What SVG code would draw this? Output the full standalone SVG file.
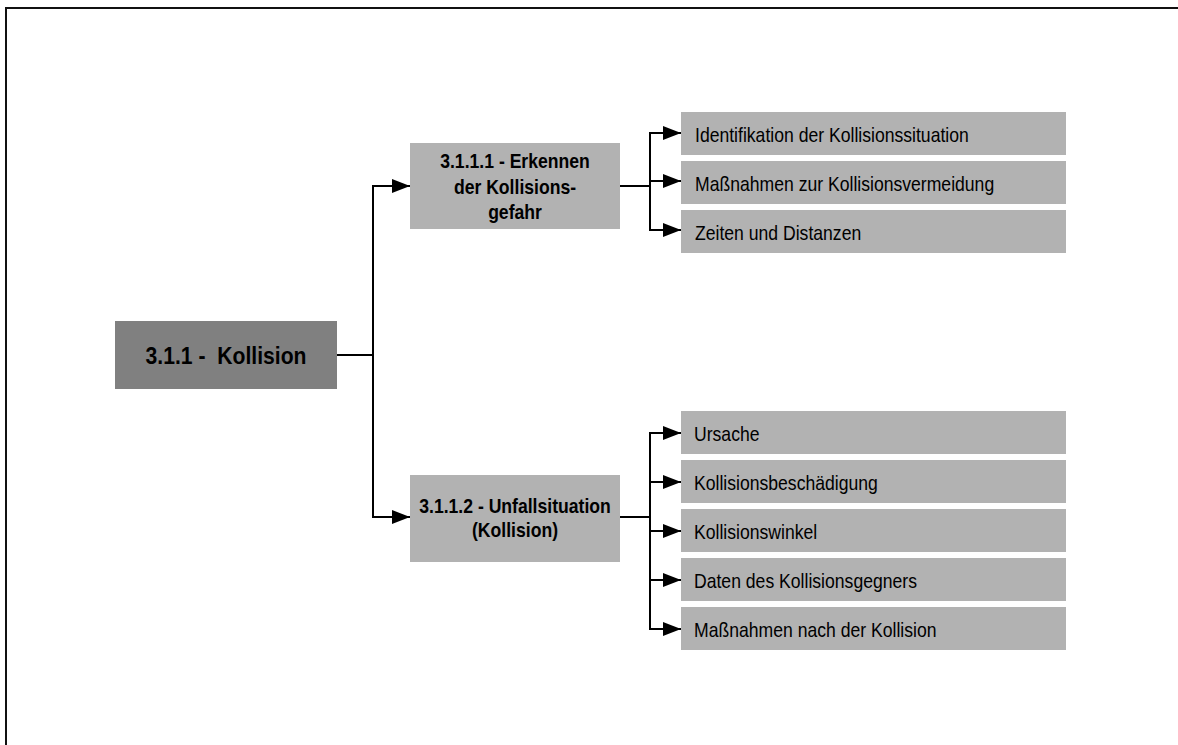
<svg xmlns="http://www.w3.org/2000/svg" width="1178" height="745" viewBox="0 0 1178 745">
  <defs>
    <marker id="arrow" markerUnits="userSpaceOnUse" markerWidth="18" markerHeight="14" refX="18" refY="7" orient="auto">
      <path d="M0,0 L18,7 L0,14 z" fill="#000"/>
    </marker>
    <style>
      .frame { fill: none; stroke: #111; stroke-width: 2; }
      .root rect { fill: #808080; }
      .mid rect { fill: #b2b2b2; }
      .leaf rect { fill: #b2b2b2; }
      .root text { font-family: "Liberation Sans", Arial, sans-serif; font-weight: bold; font-size: 23px; fill: #000; text-anchor: middle; white-space: pre; }
      .mid text { font-family: "Liberation Sans", Arial, sans-serif; font-weight: bold; font-size: 20px; fill: #000; text-anchor: middle; }
      .leaf text { font-family: "Liberation Sans", Arial, sans-serif; font-size: 20px; fill: #000; }
      .conn path { fill: none; stroke: #000; stroke-width: 2; }
      .conn path.arr { marker-end: url(#arrow); }
    </style>
  </defs>

  <rect width="1178" height="745" fill="#fff"/>
  <!-- page frame (top and left edges) -->
  <path class="frame" d="M6,745 V8 H1178"/>

  <!-- connectors -->
  <g id="connectors" class="conn">
    <path d="M337,355 H373"/>
    <path class="arr" d="M373,355 V186 H410"/>
    <path class="arr" d="M373,355 V517 H410"/>

    <path d="M620,186 H650"/>
    <path class="arr" d="M650,186 V133 H681"/>
    <path class="arr" d="M650,181 H681"/>
    <path class="arr" d="M650,186 V230 H681"/>

    <path d="M620,517 H650"/>
    <path class="arr" d="M650,517 V433 H681"/>
    <path class="arr" d="M650,482 H681"/>
    <path class="arr" d="M650,531 H681"/>
    <path class="arr" d="M650,580 H681"/>
    <path class="arr" d="M650,517 V629 H681"/>
  </g>

  <!-- root node (condensed lettering) -->
  <g id="n-kollision" class="root">
    <rect x="115" y="321" width="222" height="68"/>
    <text transform="translate(226,364) scale(0.92,1)">3.1.1 -  Kollision</text>
  </g>

  <!-- second level -->
  <g id="n-erkennen" class="mid">
    <rect x="410" y="143" width="210" height="86"/>
    <text transform="translate(515,168) scale(0.88,1)">3.1.1.1 - Erkennen</text>
    <text transform="translate(515,194) scale(0.88,1)">der Kollisions-</text>
    <text transform="translate(515,219) scale(0.88,1)">gefahr</text>
  </g>
  <g id="n-unfallsituation" class="mid">
    <rect x="410" y="475" width="210" height="87"/>
    <text transform="translate(515,513) scale(0.88,1)">3.1.1.2 - Unfallsituation</text>
    <text transform="translate(515,537) scale(0.88,1)">(Kollision)</text>
  </g>

  <!-- leaves: Erkennen -->
  <g id="l-identifikation" class="leaf">
    <rect x="681" y="112" width="385" height="43"/>
    <text transform="translate(695,142) scale(0.88,1)">Identifikation der Kollisionssituation</text>
  </g>
  <g id="l-massnahmen-vermeidung" class="leaf">
    <rect x="681" y="161" width="385" height="43"/>
    <text transform="translate(695,191) scale(0.88,1)">Maßnahmen zur Kollisionsvermeidung</text>
  </g>
  <g id="l-zeiten" class="leaf">
    <rect x="681" y="210" width="385" height="43"/>
    <text transform="translate(695,240) scale(0.88,1)">Zeiten und Distanzen</text>
  </g>

  <!-- leaves: Unfallsituation -->
  <g id="l-ursache" class="leaf">
    <rect x="681" y="411" width="385" height="43"/>
    <text transform="translate(694,441) scale(0.88,1)">Ursache</text>
  </g>
  <g id="l-beschaedigung" class="leaf">
    <rect x="681" y="460" width="385" height="43"/>
    <text transform="translate(694,490) scale(0.88,1)">Kollisionsbeschädigung</text>
  </g>
  <g id="l-winkel" class="leaf">
    <rect x="681" y="509" width="385" height="43"/>
    <text transform="translate(694,539) scale(0.88,1)">Kollisionswinkel</text>
  </g>
  <g id="l-gegner" class="leaf">
    <rect x="681" y="558" width="385" height="43"/>
    <text transform="translate(694,588) scale(0.88,1)">Daten des Kollisionsgegners</text>
  </g>
  <g id="l-massnahmen-nach" class="leaf">
    <rect x="681" y="607" width="385" height="43"/>
    <text transform="translate(694,637) scale(0.88,1)">Maßnahmen nach der Kollision</text>
  </g>
</svg>
